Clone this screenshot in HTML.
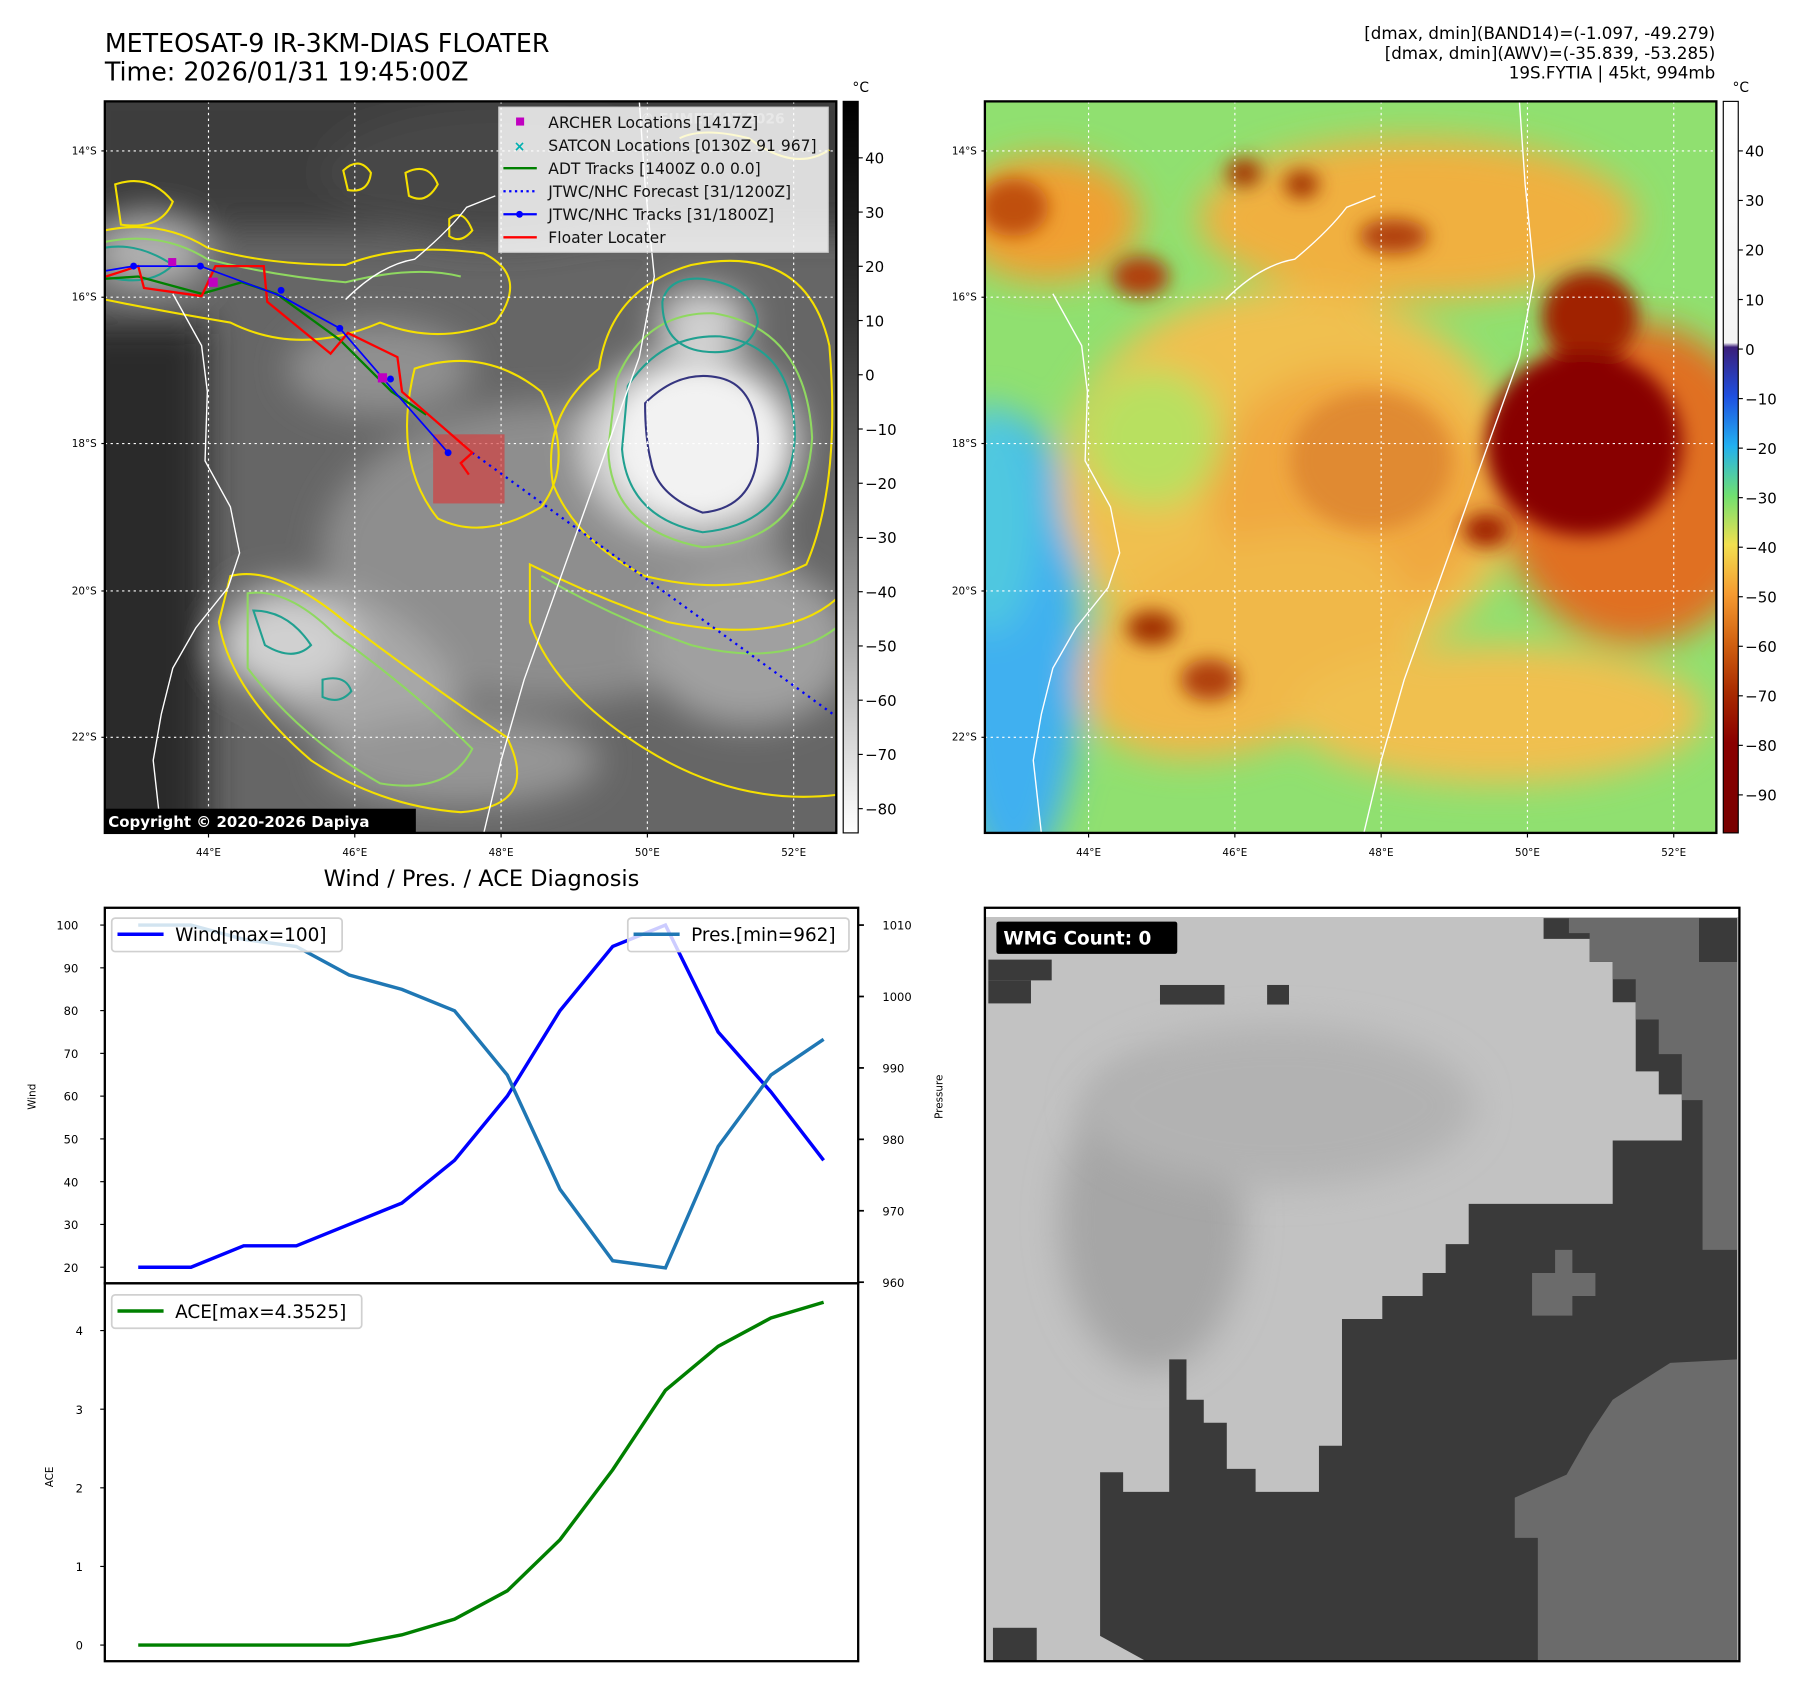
<!DOCTYPE html>
<html><head><meta charset="utf-8"><style>
html,body{margin:0;padding:0;background:#fff;}
svg{display:block;font-family:"DejaVu Sans","Liberation Sans",sans-serif;}
</style></head><body>
<svg id="root" width="1797" height="1690" viewBox="0 0 1560 1467" preserveAspectRatio="none" xmlns="http://www.w3.org/2000/svg">
<defs>
<filter id="blur8" x="-50%" y="-50%" width="200%" height="200%"><feGaussianBlur stdDeviation="8"/></filter>
<filter id="blur15" x="-50%" y="-50%" width="200%" height="200%"><feGaussianBlur stdDeviation="15"/></filter>
<filter id="blur4" x="-50%" y="-50%" width="200%" height="200%"><feGaussianBlur stdDeviation="4"/></filter>
<clipPath id="c1"><rect x="91" y="88" width="635" height="635"/></clipPath>
<clipPath id="c2"><rect x="855" y="88" width="635" height="635"/></clipPath>
<linearGradient id="gb" x1="0" y1="0" x2="0" y2="1"><stop offset="0" stop-color="#000"/><stop offset="0.3" stop-color="#333"/><stop offset="0.55" stop-color="#707070"/><stop offset="1" stop-color="#fff"/></linearGradient>
<linearGradient id="gc" x1="0" y1="0" x2="0" y2="1">
<stop offset="0" stop-color="#fff"/><stop offset="0.33" stop-color="#f4f4f4"/><stop offset="0.336" stop-color="#3b1f7a"/>
<stop offset="0.403" stop-color="#1f4fe0"/><stop offset="0.471" stop-color="#22b0f0"/><stop offset="0.539" stop-color="#70e070"/>
<stop offset="0.606" stop-color="#f2e050"/><stop offset="0.674" stop-color="#f59a30"/><stop offset="0.742" stop-color="#d06010"/>
<stop offset="0.809" stop-color="#a82a00"/><stop offset="0.877" stop-color="#8a0000"/><stop offset="1" stop-color="#780000"/></linearGradient>
</defs>

<!-- titles -->
<text x="91" y="45" font-size="22">METEOSAT-9 IR-3KM-DIAS FLOATER</text>
<text x="91" y="70" font-size="22">Time: 2026/01/31 19:45:00Z</text>
<g font-size="14.5" text-anchor="end">
<text x="1489" y="34">[dmax, dmin](BAND14)=(-1.097, -49.279)</text>
<text x="1489" y="51">[dmax, dmin](AWV)=(-35.839, -53.285)</text>
<text x="1489" y="68">19S.FYTIA | 45kt, 994mb</text>
</g>

<!-- MAP 1 -->
<g clip-path="url(#c1)">
<rect x="91" y="88" width="635" height="635" fill="#666"/>
<g filter="url(#blur15)">
<rect x="60" y="60" width="700" height="140" fill="#3e3e3e"/>
<rect x="60" y="280" width="120" height="460" fill="#2c2c2c"/>
<ellipse cx="430" cy="150" rx="150" ry="60" fill="#474747"/>
<ellipse cx="480" cy="480" rx="200" ry="130" fill="#8e8e8e"/>
<ellipse cx="300" cy="580" rx="110" ry="60" fill="#a8a8a8" transform="rotate(30 300 580)"/>
<ellipse cx="250" cy="560" rx="60" ry="40" fill="#d0d0d0"/>
<ellipse cx="330" cy="320" rx="80" ry="40" fill="#909090"/>
<ellipse cx="650" cy="560" rx="90" ry="70" fill="#a0a0a0"/>
<ellipse cx="600" cy="385" rx="95" ry="80" fill="#d8d8d8"/>
<ellipse cx="610" cy="280" rx="40" ry="30" fill="#d0d0d0"/>
<ellipse cx="130" cy="220" rx="50" ry="30" fill="#b0b0b0"/>
<ellipse cx="400" cy="660" rx="120" ry="40" fill="#959595"/>
</g>
<ellipse cx="605" cy="385" rx="70" ry="60" fill="#f2f2f2" filter="url(#blur8)"/>
<g fill="none" stroke-width="1.8">
<path d="M535,330 Q560,270 620,272 Q700,285 705,380 Q700,470 610,475 Q530,460 528,390 Z" stroke="#8fd860"/>
<path d="M545,335 Q575,290 625,292 Q690,300 690,380 Q685,455 610,462 Q545,450 540,390 Z" stroke="#20a090"/>
<path d="M560,350 Q590,320 625,328 Q655,335 658,380 Q660,440 610,445 Q570,430 565,400 Q560,380 560,350 Z" stroke="#353580"/>
<path d="M575,262 Q580,240 610,242 Q655,248 658,280 Q650,310 610,305 Q575,300 575,262 Z" stroke="#20a090"/>
<path d="M520,320 Q530,250 600,230 Q700,210 720,300 Q730,420 700,490 Q640,520 560,500 Q500,470 480,420 Q470,360 520,320 Z" stroke="#f5e000"/>
<path d="M360,320 Q420,300 470,340 Q500,400 470,440 Q420,470 380,450 Q340,400 360,320 Z" stroke="#f5e000"/>
<path d="M200,500 Q240,490 300,540 Q380,600 440,640 Q470,700 400,705 Q330,700 270,660 Q200,600 190,540 Z" stroke="#f5e000"/>
<path d="M215,515 Q250,510 290,550 Q360,600 410,650 Q390,690 330,680 Q260,640 215,580 Z" stroke="#8fd860"/>
<path d="M220,530 Q250,530 270,560 Q255,575 230,560 Z" stroke="#20a090"/>
<path d="M280,590 Q300,585 305,600 Q295,612 280,605 Z" stroke="#20a090"/>
<path d="M460,490 Q520,520 580,540 Q680,560 726,520 L726,690 Q640,700 560,650 Q480,600 460,540 Z" stroke="#f5e000"/>
<path d="M470,500 Q530,535 600,560 Q680,580 726,545" stroke="#8fd860"/>
<path d="M91,200 Q140,190 180,215 Q230,230 300,230 Q350,210 420,220 Q460,240 430,280 Q380,300 330,280 Q260,310 200,280 Q140,270 91,260" stroke="#f5e000"/>
<path d="M91,210 Q140,200 180,225 Q240,240 300,245 Q360,230 400,240" stroke="#8fd860"/>
<path d="M91,215 Q120,210 150,230 Q130,250 91,240" stroke="#20a090"/>
<path d="M100,160 Q130,150 150,175 Q140,200 105,195 Z" stroke="#f5e000"/>
<path d="M298,148 Q312,135 322,150 Q320,168 302,165 Z" stroke="#f5e000"/>
<path d="M352,150 Q372,140 380,160 Q370,178 355,170 Z" stroke="#f5e000"/>
<path d="M390,190 Q402,180 410,200 Q400,212 390,205 Z" stroke="#f5e000"/>
<path d="M590,120 Q610,110 650,120 Q690,150 720,130" stroke="#f5e000"/>
</g>
<g fill="none" stroke="#fff" stroke-width="1.2">
<path d="M150,255 L175,300 L180,340 L178,400 L200,440 L208,480 L198,510 L170,545 L150,580 L140,620 L133,660 L140,723"/>
<path d="M300,260 Q330,230 360,225 Q390,200 405,180 L430,170"/>
<path d="M555,88 L560,160 L568,240 L555,310 L530,380 L505,450 L480,520 L455,590 L435,660 L420,723"/>
</g>
<g stroke="#fff" stroke-width="1" stroke-dasharray="2,3">
<line x1="181" y1="88" x2="181" y2="723"/><line x1="308" y1="88" x2="308" y2="723"/><line x1="435" y1="88" x2="435" y2="723"/><line x1="562" y1="88" x2="562" y2="723"/><line x1="689" y1="88" x2="689" y2="723"/>
<line x1="91" y1="131" x2="726" y2="131"/><line x1="91" y1="258" x2="726" y2="258"/><line x1="91" y1="385" x2="726" y2="385"/><line x1="91" y1="513" x2="726" y2="513"/><line x1="91" y1="640" x2="726" y2="640"/>
</g>
<rect x="376" y="377" width="62" height="60" fill="rgba(215,60,60,0.65)"/>
<polyline points="410,393 726,622" fill="none" stroke="#0000ff" stroke-width="2" stroke-dasharray="2,4"/>
<polyline points="92,242 120,240 175,255 210,245 240,255 295,295 340,340 370,360" fill="none" stroke="#008000" stroke-width="2"/>
<polyline points="92,240 120,231 125,250 175,257 187,231 229,231 232,262 287,307 302,289 345,310 349,340 410,393 400,402 407,412" fill="none" stroke="#ff0000" stroke-width="2"/>
<polyline points="92,235 116,231 174,231 244,257 295,285 339,336 389,393" fill="none" stroke="#0000ff" stroke-width="1.5"/>
<g fill="#0000ff"><circle cx="116" cy="231" r="3"/><circle cx="174" cy="231" r="3"/><circle cx="244" cy="252" r="3"/><circle cx="295" cy="285" r="3"/><circle cx="339" cy="329" r="3"/><circle cx="389" cy="393" r="3"/></g>
<g fill="#c000c0"><rect x="181" y="241" width="8" height="8"/><rect x="328" y="324" width="8" height="8"/><rect x="146" y="224" width="7" height="7"/></g>
<g>
<rect x="433" y="93" width="286" height="126" fill="rgba(255,255,255,0.82)" stroke="#ccc"/>
<text x="556" y="107" font-size="12" fill="#e8e8e8" font-weight="bold">© EUMETSAT 2026</text>
<rect x="448" y="102" width="7" height="7" fill="#c000c0"/>
<text x="451" y="131" font-size="12" fill="#00b0b0" text-anchor="middle" font-weight="bold">×</text>
<line x1="437" y1="146" x2="466" y2="146" stroke="#008000" stroke-width="2"/>
<line x1="437" y1="166" x2="466" y2="166" stroke="#0000ff" stroke-width="2" stroke-dasharray="2,3"/>
<line x1="437" y1="186" x2="466" y2="186" stroke="#0000ff" stroke-width="2"/><circle cx="451" cy="186" r="3" fill="#0000ff"/>
<line x1="437" y1="206" x2="466" y2="206" stroke="#ff0000" stroke-width="2"/>
<g font-size="13.5" fill="#111">
<text x="476" y="111">ARCHER Locations [1417Z]</text>
<text x="476" y="131">SATCON Locations [0130Z 91 967]</text>
<text x="476" y="151">ADT Tracks [1400Z 0.0 0.0]</text>
<text x="476" y="171">JTWC/NHC Forecast [31/1200Z]</text>
<text x="476" y="191">JTWC/NHC Tracks [31/1800Z]</text>
<text x="476" y="211">Floater Locater</text>
</g></g>
<rect x="89" y="702" width="272" height="21" fill="#000"/>
<text x="94" y="718" font-size="13" font-weight="bold" fill="#fff">Copyright © 2020-2026 Dapiya</text>
</g>
<rect x="91" y="88" width="635" height="635" fill="none" stroke="#000" stroke-width="2"/>

<rect x="732" y="88" width="13" height="635" fill="url(#gb)" stroke="#000" stroke-width="1"/>
<text x="740" y="80" font-size="12">°C</text>
<g font-size="13" id="cb1ticks"></g>

<!-- MAP 2 -->
<g clip-path="url(#c2)">
<rect x="855" y="88" width="635" height="635" fill="#90e070"/>
<g filter="url(#blur15)">
<ellipse cx="880" cy="560" rx="60" ry="200" fill="#40b0f0"/>
<ellipse cx="860" cy="450" rx="40" ry="100" fill="#50c8e0"/>
<ellipse cx="1120" cy="420" rx="200" ry="170" fill="#f0c050"/>
<ellipse cx="1170" cy="430" rx="120" ry="110" fill="#f0a840"/>
<ellipse cx="1080" cy="560" rx="150" ry="90" fill="#f0b848" transform="rotate(-20 1080 560)"/>
<ellipse cx="1230" cy="190" rx="190" ry="70" fill="#f0b040"/>
<ellipse cx="910" cy="190" rx="80" ry="55" fill="#f0a030"/>
<ellipse cx="1420" cy="420" rx="120" ry="140" fill="#e07020"/>
<ellipse cx="1300" cy="620" rx="180" ry="60" fill="#f0c050"/>
<ellipse cx="1000" cy="380" rx="60" ry="60" fill="#b8e060"/>
</g>
<g filter="url(#blur8)">
<ellipse cx="880" cy="180" rx="30" ry="25" fill="#c05010"/>
<ellipse cx="990" cy="240" rx="25" ry="18" fill="#b04010"/>
<ellipse cx="1080" cy="150" rx="15" ry="12" fill="#a03000"/>
<ellipse cx="1130" cy="160" rx="15" ry="12" fill="#a03000"/>
<ellipse cx="1210" cy="205" rx="30" ry="15" fill="#b04010"/>
<ellipse cx="1000" cy="545" rx="22" ry="15" fill="#a03000"/>
<ellipse cx="1050" cy="590" rx="25" ry="18" fill="#b04010"/>
<ellipse cx="1190" cy="400" rx="70" ry="60" fill="#e08a30"/>
<ellipse cx="1380" cy="275" rx="42" ry="40" fill="#a02000"/>
<ellipse cx="1375" cy="385" rx="85" ry="80" fill="#880000"/>
<ellipse cx="1290" cy="460" rx="20" ry="15" fill="#a02000"/>
</g>
<g fill="none" stroke="#fff" stroke-width="1.2">
<path d="M914,255 L939,300 L944,340 L942,400 L964,440 L972,480 L962,510 L934,545 L914,580 L904,620 L897,660 L904,723"/>
<path d="M1064,260 Q1094,230 1124,225 Q1154,200 1169,180 L1194,170"/>
<path d="M1319,88 L1324,160 L1332,240 L1319,310 L1294,380 L1269,450 L1244,520 L1219,590 L1199,660 L1184,723"/>
</g>
<g stroke="#fff" stroke-width="1" stroke-dasharray="2,3">
<line x1="945" y1="88" x2="945" y2="723"/><line x1="1072" y1="88" x2="1072" y2="723"/><line x1="1199" y1="88" x2="1199" y2="723"/><line x1="1326" y1="88" x2="1326" y2="723"/><line x1="1453" y1="88" x2="1453" y2="723"/>
<line x1="855" y1="131" x2="1490" y2="131"/><line x1="855" y1="258" x2="1490" y2="258"/><line x1="855" y1="385" x2="1490" y2="385"/><line x1="855" y1="513" x2="1490" y2="513"/><line x1="855" y1="640" x2="1490" y2="640"/>
</g>
</g>
<rect x="855" y="88" width="635" height="635" fill="none" stroke="#000" stroke-width="2"/>
<rect x="1496" y="88" width="13" height="635" fill="url(#gc)" stroke="#000" stroke-width="1"/>
<text x="1504" y="80" font-size="12">°C</text>
<g font-size="13" id="cb2ticks"></g>
<g font-size="9" id="mapticks"></g>

<!-- WMG panel -->
<g>
<rect x="855" y="788" width="655" height="654" fill="#c2c2c2"/>
<ellipse cx="1000" cy="1060" rx="80" ry="130" fill="#a6a6a6" filter="url(#blur15)"/>
<ellipse cx="1110" cy="960" rx="170" ry="70" fill="#b2b2b2" filter="url(#blur15)"/>
<rect x="855" y="788" width="655" height="8" fill="#fff"/>
<polygon fill="#3a3a3a" points="1325,797 1508,797 1508,1442 995,1442 955,1420 955,1278 975,1278 975,1295 1015,1295 1015,1180 1030,1180 1030,1215 1045,1215 1045,1235 1065,1235 1065,1275 1090,1275 1090,1295 1145,1295 1145,1255 1165,1255 1165,1145 1200,1145 1200,1125 1235,1125 1235,1105 1255,1105 1255,1080 1275,1080 1275,1045 1400,1045 1400,990 1460,990 1460,950 1440,950 1440,930 1420,930 1420,870 1400,870 1400,835 1380,835 1380,815 1340,815 1340,797"/>
<polygon fill="#6b6b6b" points="1362,797 1475,797 1475,835 1508,835 1508,1085 1478,1085 1478,955 1460,955 1460,915 1440,915 1440,885 1420,885 1420,850 1400,850 1400,835 1380,835 1380,810 1362,810"/>
<polygon fill="#6b6b6b" points="1508,1180 1450,1183 1400,1215 1380,1245 1360,1280 1315,1300 1315,1335 1335,1335 1335,1442 1508,1442"/>
<polygon fill="#6b6b6b" points="1330,1105 1350,1105 1350,1085 1365,1085 1365,1105 1385,1105 1385,1125 1365,1125 1365,1142 1330,1142"/>
<rect x="1475" y="797" width="33" height="38" fill="#3a3a3a"/>
<rect x="858" y="833" width="55" height="18" fill="#3a3a3a"/><rect x="858" y="851" width="37" height="20" fill="#3a3a3a"/>
<rect x="1007" y="855" width="56" height="17" fill="#3a3a3a"/><rect x="1100" y="855" width="19" height="17" fill="#3a3a3a"/>
<rect x="862" y="1413" width="38" height="29" fill="#3a3a3a"/>
<rect x="855" y="788" width="655" height="654" fill="none" stroke="#000" stroke-width="2"/>
<rect x="865" y="800" width="157" height="28" rx="2" fill="#000"/>
<text x="871" y="820" font-size="16" font-weight="bold" fill="#fff">WMG Count: 0</text>
</g>

<!-- CHART -->
<text x="418" y="769" font-size="19.5" text-anchor="middle">Wind / Pres. / ACE Diagnosis</text>
<g id="chart"></g>
</svg>
<script>
var windVals=[20,20,25,25,30,35,45,60,80,95,100,75,61,45];
var presVals=[1010,1010,1008,1007,1003,1001,998,989,973,963,962,979,989,994];
var aceVals=[0,0,0,0,0,0.13,0.33,0.69,1.34,2.23,3.24,3.80,4.16,4.36];
var windTicks=[20,30,40,50,60,70,80,90,100];
var presTicks=[960,970,980,990,1000,1010];
var aceTicks=[0,1,2,3,4];
var NS="http://www.w3.org/2000/svg";
function mk(p,t,a,txt){var e=document.createElementNS(NS,t);for(var k in a)e.setAttribute(k,a[k]);if(txt!==undefined)e.textContent=txt;p.appendChild(e);return e;}
function xI(i){return 120+i*(595/(windVals.length-1));}
function yW(v){return 803+(100-v)*(297/80);}
function yP(p){return 803+(1010-p)*(310/50);}
function yA(a){return 1428-a*(273/4);}
var ch=document.getElementById('chart');
var b1=mk(ch,'rect',{x:91,y:788,width:654,height:326,fill:'none',stroke:'#000','stroke-width':2});


var b2=mk(ch,'rect',{x:91,y:1114,width:654,height:328,fill:'none',stroke:'#000','stroke-width':2});


windTicks.forEach(function(v){mk(ch,'line',{x1:87,x2:91,y1:yW(v),y2:yW(v),stroke:'#000'});
var t=mk(ch,'text',{x:68,y:yW(v)+4,'font-size':10,'text-anchor':'end'},String(v));

});
presTicks.forEach(function(v){mk(ch,'line',{x1:745,x2:750,y1:yP(v),y2:yP(v),stroke:'#000','stroke-width':1.5});
var t=mk(ch,'text',{x:766,y:yP(v)+4,'font-size':10},String(v));

});
aceTicks.forEach(function(v){mk(ch,'line',{x1:87,x2:91,y1:yA(v),y2:yA(v),stroke:'#000'});
var t=mk(ch,'text',{x:72,y:yA(v)+4,'font-size':10,'text-anchor':'end'},String(v));

});
var l1=mk(ch,'text',{x:31,y:952,'font-size':9,'text-anchor':'middle',transform:'rotate(-90 31 952)'},'Wind');


var l2=mk(ch,'text',{x:818,y:952,'font-size':9,'text-anchor':'middle',transform:'rotate(-90 818 952)'},'Pressure');


var l3=mk(ch,'text',{x:46,y:1282,'font-size':9,'text-anchor':'middle',transform:'rotate(-90 46 1282)'},'ACE');


function pts(arr,fy){return arr.map(function(v,i){return xI(i)+','+fy(v);}).join(' ');}
var wl=mk(ch,'polyline',{points:pts(windVals,yW),fill:'none',stroke:'#0000ff','stroke-width':3});


var pl=mk(ch,'polyline',{points:pts(presVals,yP),fill:'none',stroke:'#1f77b4','stroke-width':3});


var al=mk(ch,'polyline',{points:pts(aceVals,yA),fill:'none',stroke:'#008000','stroke-width':3});


function legend(x,y,w,color,label,name){var g=mk(ch,'g',{});


mk(g,'rect',{x:x,y:y,width:w,height:29,rx:3,fill:'rgba(255,255,255,0.8)',stroke:'#d0d0d0','stroke-width':1.5});
mk(g,'line',{x1:x+5,x2:x+45,y1:y+14,y2:y+14,stroke:color,'stroke-width':3});
mk(g,'text',{x:x+55,y:y+20,'font-size':16},label);}
legend(97,797,200,'#0000ff','Wind[max='+Math.max.apply(null,windVals)+']','wind-legend');
legend(545,797,192,'#1f77b4','Pres.[min='+Math.min.apply(null,presVals)+']','pressure-legend');
legend(97,1124,217,'#008000','ACE[max=4.3525]','ace-legend');
var cb1=document.getElementById('cb1ticks');
[40,30,20,10,0,-10,-20,-30,-40,-50,-60,-70,-80].forEach(function(v){var y=137+(40-v)*4.708;
mk(cb1,'line',{x1:745,x2:749,y1:y,y2:y,stroke:'#000'});
mk(cb1,'text',{x:751,y:y+5},(v<0?'\u2212'+(-v):String(v)));});
var cb2=document.getElementById('cb2ticks');
[40,30,20,10,0,-10,-20,-30,-40,-50,-60,-70,-80,-90].forEach(function(v){var y=131+(40-v)*4.3;
mk(cb2,'line',{x1:1509,x2:1513,y1:y,y2:y,stroke:'#000'});
mk(cb2,'text',{x:1515,y:y+5},(v<0?'\u2212'+(-v):String(v)));});
var mt=document.getElementById('mapticks');
var lats=['14°S','16°S','18°S','20°S','22°S'],latY=[131,258,385,513,640];
var lons=['44°E','46°E','48°E','50°E','52°E'],lonX=[181,308,435,562,689];
[0,764].forEach(function(off){
lats.forEach(function(s,i){mk(mt,'text',{x:off+84,y:latY[i]+3,'text-anchor':'end'},s);mk(mt,'line',{x1:off+88,x2:off+91,y1:latY[i],y2:latY[i],stroke:'#000'});});
lons.forEach(function(s,i){mk(mt,'text',{x:off+lonX[i],y:743,'text-anchor':'middle'},s);mk(mt,'line',{x1:off+lonX[i],x2:off+lonX[i],y1:723,y2:727,stroke:'#000'});});});
</script>
</body></html>
